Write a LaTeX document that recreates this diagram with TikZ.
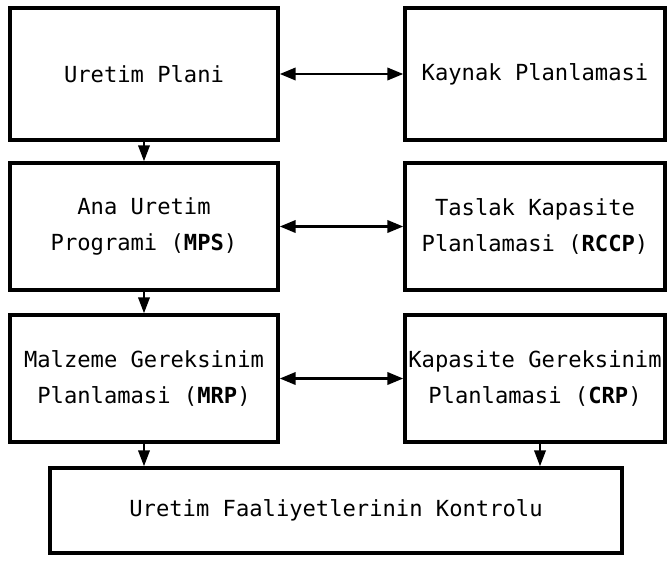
\documentclass[tikz,border=0pt]{standalone}
\usepackage{fontspec}
\setmonofont{DejaVu Sans Mono}
\usetikzlibrary{arrows.meta}
\tikzset{
  planbox/.style={draw, line width=2pt, align=center, inner sep=0pt,
    font=\ttfamily\fontsize{12.6}{20.4}\selectfont},
  flow/.style={-{Triangle[length=9pt,width=6.5pt]}, line width=1.2pt},
  twoway/.style={{Triangle[length=9pt,width=7pt]}-{Triangle[length=9pt,width=7pt]}, line width=1.4pt}
}

\begin{document}
\begin{tikzpicture}
  \useasboundingbox (0,0) rectangle (13.34,11.22);

  % --- top row ---
  \node[planbox, minimum width=5.36cm, minimum height=2.64cm] (plan) at (2.88,9.74) {Uretim Plani};
  \node[planbox, minimum width=5.2cm, minimum height=2.64cm] (kaynak) at (10.70,9.74) {Kaynak Planlamasi};

  % --- middle rows ---
  \node[planbox, minimum width=5.36cm, minimum height=2.54cm] (mps) at (2.88,6.69) {Ana Uretim\\Programi (\textbf{MPS})};
  \node[planbox, minimum width=5.2cm, minimum height=2.54cm] (rccp) at (10.70,6.69) {Taslak Kapasite\\Planlamasi (\textbf{RCCP})};
  \node[planbox, minimum width=5.36cm, minimum height=2.54cm] (mrp) at (2.88,3.65) {Malzeme Gereksinim\\Planlamasi (\textbf{MRP})};
  \node[planbox, minimum width=5.2cm, minimum height=2.54cm] (crp) at (10.70,3.65) {Kapasite Gereksinim\\Planlamasi (\textbf{CRP})};

  % --- bottom ---
  \node[planbox, minimum width=11.44cm, minimum height=1.7cm] (kontrol) at (6.72,1.01) {Uretim Faaliyetlerinin Kontrolu};

  % connectors
  \draw[twoway] (plan.east) -- (kaynak.west);
  \draw[twoway] (mps.east) -- (rccp.west);
  \draw[twoway] (mrp.east) -- (crp.west);
  \draw[flow] (plan.south) -- (mps.north);
  \draw[flow] (mps.south) -- (mrp.north);
  \draw[flow] (mrp.south) -- (mrp.south |- kontrol.north);
  \draw[flow] ([xshift=0.1cm]crp.south) -- ([xshift=0.1cm]crp.south |- kontrol.north);
\end{tikzpicture}
\end{document}
